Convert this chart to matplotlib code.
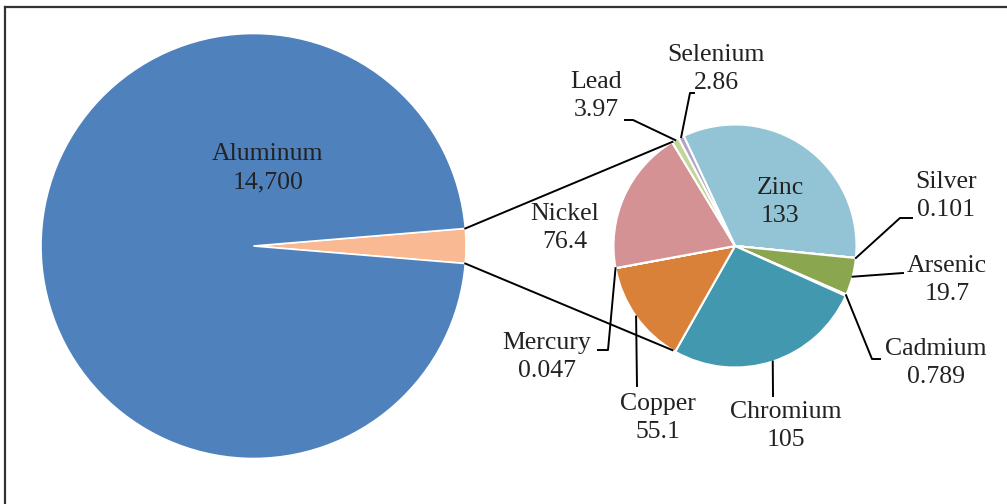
import numpy as np
import matplotlib.pyplot as plt

W, H = 1007, 504

# data
aluminum = 14700
names = ["Zinc", "Silver", "Arsenic", "Cadmium", "Chromium",
         "Copper", "Mercury", "Nickel", "Lead", "Selenium"]
values = [133, 0.101, 19.7, 0.789, 105, 55.1, 0.047, 76.4, 3.97, 2.86]
colors = ["#93C4D5", "#5B9BD5", "#8AA64F", "#8064A2", "#4198AF",
          "#DA8139", "#3F6FA8", "#D49294", "#C2D69A", "#B3A2C7"]

# label centres (pixels) and leader bends near the text
label_pos = {
    "Zinc": (780, 202), "Silver": (946, 196), "Arsenic": (947, 280),
    "Cadmium": (936, 363), "Chromium": (786, 426), "Copper": (658, 418),
    "Mercury": (547, 357), "Nickel": (565, 228), "Lead": (596, 96),
    "Selenium": (716, 69),
}
leader_via = {
    "Silver": [(912, 218), (900, 218)],
    "Arsenic": [(903, 273)],
    "Cadmium": [(880, 359), (872, 359)],
    "Chromium": [(773, 396)],
    "Copper": [(637, 386)],
    "Mercury": [(598, 350), (608, 350)],
    "Lead": [(625, 120), (633, 120)],
    "Selenium": [(694, 93), (690, 93)],
}

plt.rcParams['font.family'] = ['Liberation Serif', 'DejaVu Serif']
FS = 18.5
LS = 1.35

def P(x, y):
    # pixel (top-left origin) -> data
    return x, H - y

fig = plt.figure(figsize=(W / 100, H / 100), dpi=100)
ax = fig.add_axes([0, 0, 1, 1])

# main pie
other = sum(values)
c1, r1 = P(253.5, 246), 212.5
frac = other / (aluminum + other)
ax.pie([other, aluminum], colors=["#F9B993", "#4F81BD"], startangle=-frac * 180,
       center=c1, radius=r1, frame=True,
       wedgeprops=dict(edgecolor="white", linewidth=1.2))

# secondary pie
c2, r2 = P(735, 246), 121.5
start = 115
ax.pie(values, colors=colors, startangle=start, counterclock=False,
       center=c2, radius=r2, frame=True,
       wedgeprops=dict(edgecolor="white", linewidth=1.5))
ax.set_xlim(0, W)
ax.set_ylim(0, H)
ax.set_aspect('equal')
ax.axis('off')

# connectors
half = np.deg2rad(frac * 180)
for s, a2 in [(1, 121), (-1, -121)]:
    x0 = c1[0] + r1 * np.cos(half)
    y0 = c1[1] + s * r1 * np.sin(half)
    x1 = c2[0] + r2 * np.cos(np.deg2rad(a2))
    y1 = c2[1] + r2 * np.sin(np.deg2rad(a2))
    ax.plot([x0, x1], [y0, y1], color="black", lw=1.4)

ax.text(*P(268, 168), f"Aluminum\n{aluminum:,}", ha="center", va="center",
        fontsize=FS, linespacing=LS, color="#222222")

# labels and leaders of the secondary pie
bounds = start - np.cumsum([0] + values) / other * 360
for i, name in enumerate(names):
    mid = np.deg2rad((bounds[i] + bounds[i + 1]) / 2)
    tx, ty = P(*label_pos[name])
    ax.text(tx, ty, f"{name}\n{values[i]:g}", ha="center", va="center",
            fontsize=FS, linespacing=LS, color="#222222")
    if name in leader_via:
        pts = [P(*p) for p in leader_via[name]]
        xs = [p[0] for p in pts] + [c2[0] + r2 * np.cos(mid)]
        ys = [p[1] for p in pts] + [c2[1] + r2 * np.sin(mid)]
        ax.plot(xs, ys, color="black", lw=1.4)

# outer frame (top and left edges visible)
ax.plot([5, W], [H - 7, H - 7], color="#333333", lw=1.6, clip_on=False)
ax.plot([5, 5], [H - 7, 0], color="#333333", lw=1.6, clip_on=False)

fig.savefig("out.png", dpi=100)
